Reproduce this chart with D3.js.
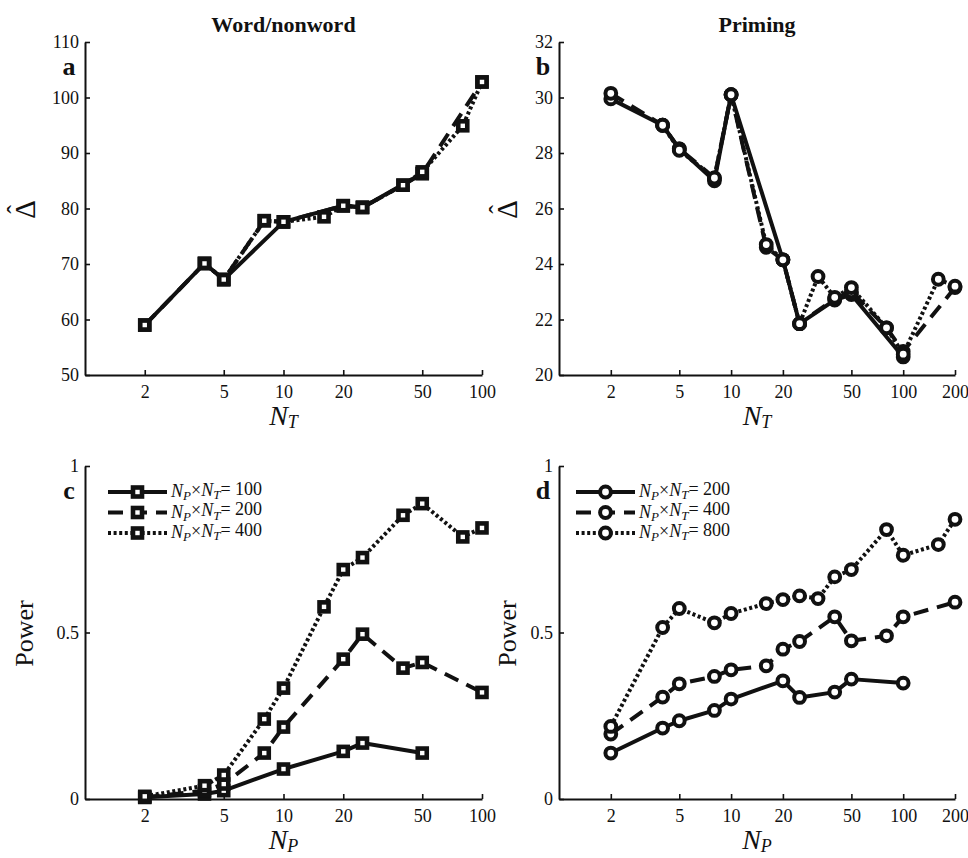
<!DOCTYPE html>
<html>
<head>
<meta charset="utf-8">
<script src="https://cdn.jsdelivr.net/npm/d3@7"></script>
<style>
  body { margin: 0; background: #fff; }
  svg { display: block; font-family: "Liberation Serif", "DejaVu Serif", serif; }
</style>
</head>
<body>
<div id="chart"></div>
<script>
// ---------- data ----------
// a: Word/nonword, delta estimate against N_T (one series per N_P x N_T budget)
let wordNT100 = [2, 4, 5, 10, 20, 25, 50]
let wordDelta100 = [59.0, 70.1, 67.2, 77.6, 80.5, 80.2, 86.3]
let wordNT200 = [2, 4, 5, 8, 10, 20, 25, 40, 50, 100]
let wordDelta200 = [59.0, 70.1, 67.2, 77.8, 77.6, 80.5, 80.2, 84.2, 86.3, 102.8]
let wordNT400 = [4, 5, 8, 10, 16, 20, 25, 40, 50, 80, 100]
let wordDelta400 = [70.1, 67.2, 77.8, 77.6, 78.5, 80.5, 80.2, 84.2, 86.6, 94.9, 102.8]

// b: Priming, delta estimate against N_T
let primeNT200 = [2, 4, 5, 8, 10, 20, 25, 40, 50, 100]
let primeDelta200 = [29.95, 29.0, 28.15, 27.0, 30.1, 24.15, 21.85, 22.7, 22.9, 20.65]
let primeNT400 = [2, 4, 5, 8, 10, 16, 20, 25, 40, 50, 80, 100, 200]
let primeDelta400 = [30.15, 29.0, 28.15, 27.1, 30.1, 24.6, 24.15, 21.85, 22.75, 23.0, 21.7, 20.85, 23.15]
let primeNT800 = [4, 5, 8, 10, 16, 20, 25, 32, 40, 50, 80, 100, 160, 200]
let primeDelta800 = [29.0, 28.1, 27.1, 30.1, 24.7, 24.15, 21.85, 23.55, 22.8, 23.15, 21.7, 20.75, 23.45, 23.2]

// c: Word/nonword, power against N_P
let wordNP100 = [2, 4, 5, 10, 20, 25, 50]
let wordPower100 = [0.005, 0.015, 0.025, 0.09, 0.143, 0.168, 0.138]
let wordNP200 = [2, 4, 5, 8, 10, 20, 25, 40, 50, 100]
let wordPower200 = [0.005, 0.025, 0.045, 0.138, 0.216, 0.42, 0.495, 0.393, 0.41, 0.32]
let wordNP400 = [2, 4, 5, 8, 10, 16, 20, 25, 40, 50, 80, 100]
let wordPower400 = [0.008, 0.04, 0.072, 0.24, 0.333, 0.577, 0.689, 0.725, 0.852, 0.887, 0.787, 0.814]

// d: Priming, power against N_P
let primeNP200 = [2, 4, 5, 8, 10, 20, 25, 40, 50, 100]
let primePower200 = [0.138, 0.213, 0.235, 0.266, 0.30, 0.355, 0.305, 0.321, 0.36, 0.348]
let primeNP400 = [2, 4, 5, 8, 10, 16, 20, 25, 40, 50, 80, 100, 200]
let primePower400 = [0.195, 0.306, 0.346, 0.368, 0.388, 0.40, 0.45, 0.473, 0.547, 0.475, 0.49, 0.547, 0.591]
let primeNP800 = [2, 4, 5, 8, 10, 16, 20, 25, 32, 40, 50, 80, 100, 160, 200]
let primePower800 = [0.218, 0.515, 0.572, 0.529, 0.557, 0.587, 0.599, 0.61, 0.602, 0.667, 0.689, 0.809, 0.732, 0.764, 0.84]

let wordBudgets = [100, 200, 400]
let primeBudgets = [200, 400, 800]

let ticksWordX = [2, 5, 10, 20, 50, 100]
let ticksPrimeX = [2, 5, 10, 20, 50, 100, 200]
let ticksWordDelta = [50, 60, 70, 80, 90, 100, 110]
let ticksPrimeDelta = [20, 22, 24, 26, 28, 30, 32]
let ticksPower = [0, 0.5, 1]

// ---------- layout ----------
let svgWidth = 968,
    svgHeight = 858

let styles = [
    { dash: null },
    { dash: "15,9" },
    { dash: "3,2.6" }
]

let svg = d3.select("#chart")
    .append("svg")
    .attr("width", svgWidth)
    .attr("height", svgHeight)

let panels = [
    {
        letter: "a", title: "Word/nonword", marker: "square",
        left: 85, right: 482, top: 42, bottom: 375,
        xMax: 100, xTicks: ticksWordX, xSub: "T",
        yDomain: [50, 110], yTicks: ticksWordDelta, yLabel: "delta", yLabelX: 35,
        series: [[wordNT100, wordDelta100], [wordNT200, wordDelta200], [wordNT400, wordDelta400]]
    },
    {
        letter: "b", title: "Priming", marker: "circle",
        left: 559, right: 955, top: 42, bottom: 375,
        xMax: 200, xTicks: ticksPrimeX, xSub: "T",
        yDomain: [20, 32], yTicks: ticksPrimeDelta, yLabel: "delta", yLabelX: 517,
        series: [[primeNT200, primeDelta200], [primeNT400, primeDelta400], [primeNT800, primeDelta800]]
    },
    {
        letter: "c", marker: "square",
        left: 85, right: 482, top: 466, bottom: 799,
        xMax: 100, xTicks: ticksWordX, xSub: "P",
        yDomain: [0, 1], yTicks: ticksPower, yLabel: "Power", yLabelX: 33,
        legend: wordBudgets, legendX: 108,
        series: [[wordNP100, wordPower100], [wordNP200, wordPower200], [wordNP400, wordPower400]]
    },
    {
        letter: "d", marker: "circle",
        left: 559, right: 955, top: 466, bottom: 799,
        xMax: 200, xTicks: ticksPrimeX, xSub: "P",
        yDomain: [0, 1], yTicks: ticksPower, yLabel: "Power", yLabelX: 516,
        legend: primeBudgets, legendX: 576,
        series: [[primeNP200, primePower200], [primeNP400, primePower400], [primeNP800, primePower800]]
    }
]

// draws one marker (square or ring) centred on cx, cy
function addMarker(g, kind, cx, cy) {
    if (kind === "square") {
        g.append("rect")
            .attr("x", cx - 4.5)
            .attr("y", cy - 4.5)
            .attr("width", 9)
            .attr("height", 9)
            .attr("fill", "#fff")
            .attr("stroke", "#111")
            .attr("stroke-width", 4.6)
    } else {
        g.append("circle")
            .attr("cx", cx)
            .attr("cy", cy)
            .attr("r", 5.4)
            .attr("fill", "#fff")
            .attr("stroke", "#111")
            .attr("stroke-width", 4)
    }
}

// N with italic subscript, e.g. N_T
function addN(textSel, sub, subSize, shift) {
    textSel.append("tspan").attr("font-style", "italic").text("N")
    textSel.append("tspan")
        .attr("font-style", "italic")
        .attr("font-size", subSize)
        .attr("dy", shift)
        .text(sub)
}

function drawPanel(p) {
    let x = d3.scaleLog().domain([1, p.xMax]).range([p.left, p.right])
    let y = d3.scaleLinear().domain(p.yDomain).range([p.bottom, p.top])
    let g = svg.append("g")

    // x axis, ticks pointing inward
    let xAxis = g.append("g")
        .attr("transform", `translate(0, ${p.bottom})`)
        .call(d3.axisBottom(x)
            .tickValues(p.xTicks)
            .tickFormat(d3.format("d"))
            .tickSizeInner(-5)
            .tickSizeOuter(0)
            .tickPadding(10))

    // y axis
    let yAxis = g.append("g")
        .attr("transform", `translate(${p.left}, 0)`)
        .call(d3.axisLeft(y)
            .tickValues(p.yTicks)
            .tickFormat(d => String(d))
            .tickSizeInner(-5)
            .tickSizeOuter(0)
            .tickPadding(6))

    ;[xAxis, yAxis].forEach(a => {
        a.select(".domain").attr("stroke", "#111").attr("stroke-width", 2)
        a.selectAll(".tick line").attr("stroke", "#111").attr("stroke-width", 1.6)
        a.selectAll(".tick text")
            .attr("fill", "#111")
            .attr("font-size", 18)
            .attr("font-family", "Liberation Serif, serif")
    })
    yAxis.selectAll(".tick text").attr("dy", "0.33em")

    // series lines then markers
    p.series.forEach((s, i) => {
        let pts = s[0].map((v, k) => [v, s[1][k]])
        g.append("path")
            .datum(pts)
            .attr("fill", "none")
            .attr("stroke", "#111")
            .attr("stroke-width", 4)
            .attr("stroke-linejoin", "round")
            .attr("stroke-dasharray", styles[i].dash)
            .attr("d", d3.line().x(d => x(d[0])).y(d => y(d[1])))
    })
    p.series.forEach(s => {
        s[0].forEach((v, k) => addMarker(g, p.marker, x(v), y(s[1][k])))
    })

    // panel title
    if (p.title) {
        g.append("text")
            .attr("x", (p.left + p.right) / 2)
            .attr("y", 32)
            .attr("text-anchor", "middle")
            .attr("font-weight", "bold")
            .attr("font-size", 22)
            .attr("fill", "#111")
            .text(p.title)
    }

    // panel letter
    g.append("text")
        .attr("x", p.left - 16)
        .attr("y", p.top + 33)
        .attr("text-anchor", "middle")
        .attr("font-weight", "bold")
        .attr("font-size", 26)
        .attr("fill", "#111")
        .text(p.letter)

    // x label
    let xl = g.append("text")
        .attr("x", (p.left + p.right) / 2)
        .attr("y", p.bottom + 50)
        .attr("text-anchor", "middle")
        .attr("font-size", 28)
        .attr("fill", "#111")
    addN(xl, p.xSub, 18, "0.18em")

    // y label, rotated
    let cy = (p.top + p.bottom) / 2 + 1
    let yl = g.append("g")
        .attr("transform", `translate(${p.yLabelX}, ${cy}) rotate(-90)`)
    if (p.yLabel === "delta") {
        yl.append("text")
            .attr("text-anchor", "middle")
            .attr("font-size", 29)
            .attr("fill", "#111")
            .text("Δ")
        yl.append("text")
            .attr("y", -10)
            .attr("text-anchor", "middle")
            .attr("font-size", 26)
            .attr("fill", "#111")
            .text("ˆ")
    } else {
        yl.append("text")
            .attr("text-anchor", "middle")
            .attr("font-size", 26)
            .attr("fill", "#111")
            .text(p.yLabel)
    }

    // legend
    if (p.legend) {
        p.legend.forEach((b, i) => {
            let ly = p.top + 26 + i * 20.5
            let lg = g.append("g")
            lg.append("line")
                .attr("x1", p.legendX)
                .attr("x2", p.legendX + 59)
                .attr("y1", ly)
                .attr("y2", ly)
                .attr("stroke", "#111")
                .attr("stroke-width", 4)
                .attr("stroke-dasharray", styles[i].dash)
            addMarker(lg, p.marker, p.legendX + 29.5, ly)
            let t = lg.append("text")
                .attr("x", p.legendX + 63)
                .attr("y", ly + 5)
                .attr("font-size", 18)
                .attr("fill", "#111")
            addN(t, "P", 13, "0.25em")
            t.append("tspan").attr("dy", "-0.25em").text("×")
            addN(t, "T", 13, "0.25em")
            t.append("tspan").attr("dy", "-0.25em").text("= " + b)
        })
    }
}

panels.forEach(drawPanel)
</script>
</body>
</html>
